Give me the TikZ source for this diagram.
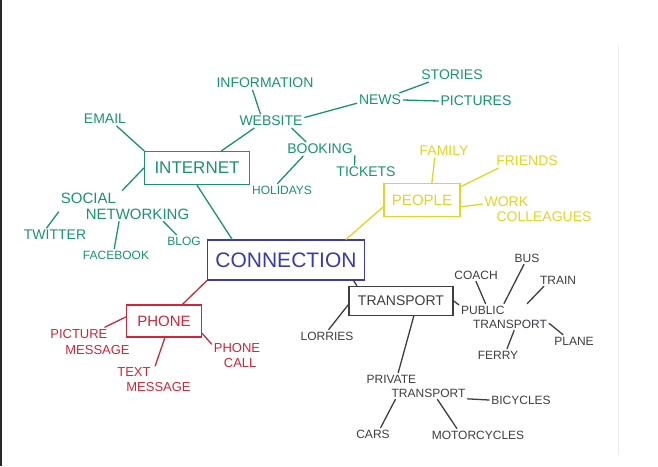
\documentclass[tikz,border=0pt]{standalone}
\usepackage{fontspec}
\setmainfont{Liberation Sans}
\usepackage{tikz}
\usetikzlibrary{calc}
\definecolor{pengreen}{RGB}{22,150,112}
\definecolor{penyellow}{RGB}{230,212,36}
\definecolor{penblue}{RGB}{58,58,178}
\definecolor{penred}{RGB}{212,36,56}
\definecolor{pengrey}{RGB}{62,62,68}
\tikzset{
	word/.style={inner sep=2pt, font=\fontsize{14}{15}\selectfont},
	small/.style={word, font=\fontsize{12}{14}\selectfont},
	box/.style={draw, line width=1.4pt, inner sep=0pt},
	link/.style={line width=1.3pt, line cap=round},
}

\begin{document}
\begin{tikzpicture}[x=1pt, y=-1pt]
			%%%%% START %%%%%
			
			\useasboundingbox (0, 0) rectangle (658, 466);
			\fill[white] (0, 0) rectangle (658, 466);
			\fill[black!85] (0, 0) rectangle (2, 466);
			\draw[black!8, line width=0.8pt] (618, 45) -- (618, 455);
			
			\node[box, color=penblue, minimum width=157, minimum height=40, font=\fontsize{21}{21}\selectfont] (connection) at (286, 260) {CONNECTION};
			
			% internet
			\begin{scope}[color=pengreen]
			\node[box, minimum width=105, minimum height=33, font=\fontsize{17}{17}\selectfont] (internet) at (197, 168) {INTERNET};
			\node[word] (email) at (105, 119) {EMAIL};
			\node[word] (website) at (271, 121) {WEBSITE};
			\node[word] (information) at (265, 83) {INFORMATION};
			\node[word] (news) at (380, 100) {NEWS};
			\node[word] (stories) at (452, 75) {STORIES};
			\node[word] (pictures) at (476, 101) {PICTURES};
			\node[word] (booking) at (320, 149) {BOOKING};
			\node[word] (tickets) at (366, 172) {TICKETS};
			\node[small] (holidays) at (282, 190) {HOLIDAYS};
			\node[word, align=left, font=\fontsize{15}{16}\selectfont] (socnet) at (125, 206) {SOCIAL\\\hspace*{25pt}NETWORKING};
			\node[word] (twitter) at (55, 235) {TWITTER};
			\node[small] (facebook) at (116, 255) {FACEBOOK};
			\node[small] (blog) at (184, 241) {BLOG};
			
			\draw[link] (internet.south) -- (connection.159);
			\draw[link] (internet.162) -- (email.-31);
			\draw[link] (internet.35) -- (website.203);
			\draw[link] (website.146) -- (information.210);
			\draw[link] (website.6) -- (news.188);
			\draw[link] (news.20) -- (stories.197);
			\draw[link] (news.east) -- (pictures.west);
			\draw[link] (website.-19) -- (booking.153);
			\draw[link] (booking.-11) -- (tickets.148);
			\draw[link] (booking.203) -- (holidays.125);
			\draw[link] (internet.west) -- (socnet.100);
			\draw[link] (socnet.185) -- (twitter.140);
			\draw[link] (socnet.-111) -- (facebook.105);
			\draw[link] (socnet.-22) -- (blog.140);
			\end{scope}
			
			% people
			\begin{scope}[color=penyellow]
			\node[box, minimum width=76, minimum height=33, font=\fontsize{15}{15}\selectfont] (people) at (422, 200) {PEOPLE};
			\node[word] (family) at (444, 151) {FAMILY};
			\node[word] (friends) at (527, 161) {FRIENDS};
			\node[word, align=left] (workcol) at (538, 209) {WORK\\\hspace*{12pt}COLLEAGUES};
			
			\draw[link] (connection.19) -- (people.190);
			\draw[link] (people.60) -- (family.217);
			\draw[link] (people.19) -- (friends.194);
			\draw[link] (people.-10) -- (workcol.175);
			\end{scope}
			
			% phone
			\begin{scope}[color=penred]
			\node[box, minimum width=75, minimum height=32, font=\fontsize{15}{15}\selectfont] (phone) at (164, 321) {PHONE};
			\node[word, align=left, font=\fontsize{13}{16}\selectfont] (picmsg) at (90, 342) {PICTURE\\\hspace*{15pt}MESSAGE};
			\node[word, align=left, font=\fontsize{13}{15}\selectfont] (textmsg) at (154, 380) {TEXT\\\hspace*{9pt}MESSAGE};
			\node[word, align=left, font=\fontsize{13}{15}\selectfont] (phonecall) at (237, 356) {PHONE\\\hspace*{10pt}CALL};
			
			\draw[link] (connection.south west) -- (phone.42);
			\draw[link] (phone.174) -- (picmsg.45);
			\draw[link] (phone.-87) -- (textmsg.85);
			\draw[link] (phone.-18) -- (phonecall.155);
			\end{scope}
			
			% transport
			\begin{scope}[color=pengrey]
			\node[box, minimum width=104, minimum height=29, font=\fontsize{14}{14}\selectfont] (transport) at (401, 301) {TRANSPORT};
			\node[small] (lorries) at (327, 336) {LORRIES};
			\node[small] (coach) at (476, 275) {COACH};
			\node[small] (bus) at (527, 258) {BUS};
			\node[small] (train) at (558, 280) {TRAIN};
			\node[small, align=left] (ptrans) at (504, 317) {PUBLIC\\\hspace*{12pt}TRANSPORT};
			\node[small] (plane) at (574, 341) {PLANE};
			\node[small] (ferry) at (498, 355) {FERRY};
			\node[small, align=left] (privtrans) at (416, 386) {PRIVATE\\\hspace*{25pt}TRANSPORT};
			\node[small] (bicycles) at (521, 400) {BICYCLES};
			\node[small] (cars) at (373, 434) {CARS};
			\node[small] (motorcycles) at (478, 435) {MOTORCYCLES};
			
			\draw[link] (connection.-17) -- (transport.161);
			\draw[link] (transport.184) -- (lorries.75);
			\draw[link] (transport.east) -- (ptrans.165);
			\draw[link] (transport.-50) -- (privtrans.143);
			\draw[link] (ptrans.144) -- (coach.south);
			\draw[link] (ptrans.north) -- (bus.-115);
			\draw[link] (ptrans.30) -- (train.204);
			\draw[link] (ptrans.-8) -- (plane.150);
			\draw[link] (ptrans.-53) -- (ferry.35);
			\draw[link] (privtrans.-14) -- (bicycles.west);
			\draw[link] (privtrans.-147) -- (cars.40);
			\draw[link] (privtrans.-32) -- (motorcycles.163);
			\end{scope}
			
			%%%%% END %%%%%
\end{tikzpicture}
\end{document}
